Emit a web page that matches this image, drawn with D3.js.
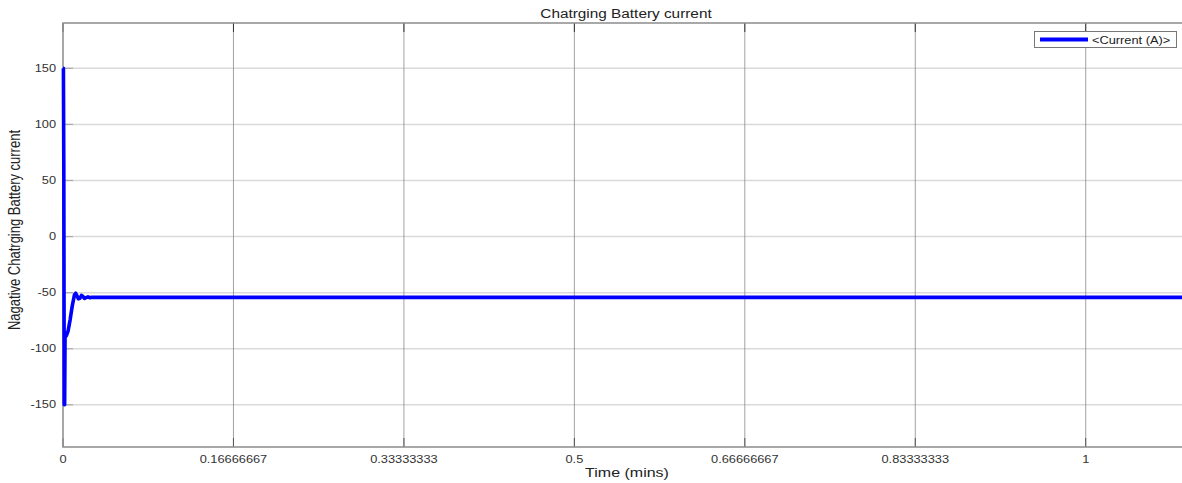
<!DOCTYPE html>
<html><head><meta charset="utf-8">
<script src="https://cdn.jsdelivr.net/npm/d3@7"></script>
<style>body{margin:0;background:#fff}svg{display:block}text{font-family:"Liberation Sans",Arial,sans-serif}</style>
</head><body><svg id="c" width="1182" height="483"></svg>
<script>
const timeMins = [0, 0.0004, 0.0008, 0.0012, 0.0016, 0.002, 0.0035, 0.005, 0.007, 0.009, 0.0112, 0.0124, 0.0138, 0.015, 0.0166, 0.018, 0.0196, 0.021, 0.0226, 0.0244, 0.026, 0.028, 0.05, 0.2, 0.4, 0.6, 0.8, 1.0, 1.1];
const currentA = [150, 150, 60, -150, -150, -90, -88, -84, -74, -62, -52, -50.5, -53, -55.5, -55, -52.5, -53.5, -55.2, -54.5, -53.8, -54.5, -54.2, -54.2, -54.2, -54.2, -54.2, -54.2, -54.2, -54.2];
const xTicks = [0, 1/6, 1/3, 0.5, 2/3, 5/6, 1];
const xTickLabels = ["0", "0.16666667", "0.33333333", "0.5", "0.66666667", "0.83333333", "1"];
const yTicks = [-150, -100, -50, 0, 50, 100, 150];
const yTickLabels = ["-150", "-100", "-50", "0", "50", "100", "150"];
const seriesName = "<Current (A)>";
const titleText = "Chatrging Battery current";
const xLabel = "Time (mins)";
const yLabel = "Nagative Chatrging Battery current";

const svg = d3.select("#c");
const L = 63, T = 23, B = 447, R = 1188;
const SX = 1.28;
const x = d3.scaleLinear().domain([0, 1.1]).range([L, R]);
const y = d3.scaleLinear().domain([-187.6, 190.4]).range([B, T]);

// horizontal grid
svg.append("g").selectAll("line").data(yTicks).join("line")
  .attr("x1", L).attr("x2", R).attr("y1", d => y(d)).attr("y2", d => y(d))
  .attr("stroke", "#dadada").attr("stroke-width", 1.5);
// vertical grid
svg.append("g").selectAll("line").data(xTicks.slice(1)).join("line")
  .attr("x1", d => x(d)).attr("x2", d => x(d)).attr("y1", T).attr("y2", B)
  .attr("stroke", "#8a8a8a").attr("stroke-width", 0.8);
// inward ticks
svg.append("g").selectAll("line").data(yTicks).join("line")
  .attr("x1", L).attr("x2", L + 10).attr("y1", d => y(d)).attr("y2", d => y(d))
  .attr("stroke", "#aaa").attr("stroke-width", 1.2);
svg.append("g").selectAll("line").data(xTicks).join("line")
  .attr("x1", d => x(d)).attr("x2", d => x(d)).attr("y1", B).attr("y2", B - 9)
  .attr("stroke", "#555").attr("stroke-width", 1);
svg.append("g").selectAll("line").data(xTicks).join("line")
  .attr("x1", d => x(d)).attr("x2", d => x(d)).attr("y1", T).attr("y2", T + 9)
  .attr("stroke", "#333").attr("stroke-width", 1);

// border
svg.append("path").attr("d", `M${R},${T}H${L}V${B}H${R}`).attr("fill", "none")
  .attr("stroke", "#8c8c8c").attr("stroke-width", 1.5);

// line
const line = d3.line().x((d, i) => x(timeMins[i])).y(d => y(d));
svg.append("path").datum(currentA).attr("d", line).attr("fill", "none")
  .attr("stroke", "#0000ff").attr("stroke-width", 3.6).attr("stroke-linejoin", "round");

function stext(px, py, str, size, anchor, fill, rot) {
  const g = svg.append("g").attr("transform", `translate(${px},${py})` + (rot ? ` rotate(${rot})` : ""));
  return g.append("text").attr("transform", rot ? `scale(1,${SX})` : `scale(${SX},1)`)
    .attr("text-anchor", anchor).attr("font-size", size).attr("fill", fill).text(str);
}
xTicks.forEach((d, i) => stext(x(d), 463, xTickLabels[i], 10, "middle", "#333"));
yTicks.forEach((d, i) => stext(56, y(d) + 3.5, yTickLabels[i], 10, "end", "#333"));
stext(626, 18, titleText, 12, "middle", "#222");
stext(627, 477, xLabel, 12.5, "middle", "#222");
stext(20, 230, yLabel, 13, "middle", "#222", -90);

// legend
const lg = svg.append("g");
lg.append("rect").attr("x", 1034.5).attr("y", 31.5).attr("width", 142).attr("height", 16)
  .attr("fill", "#fff").attr("stroke", "#777").attr("stroke-width", 1);
lg.append("line").attr("x1", 1040).attr("x2", 1088).attr("y1", 39.5).attr("y2", 39.5)
  .attr("stroke", "#0000ff").attr("stroke-width", 4);
stext(1092, 43.5, seriesName, 10, "start", "#222");
</script></body></html>
